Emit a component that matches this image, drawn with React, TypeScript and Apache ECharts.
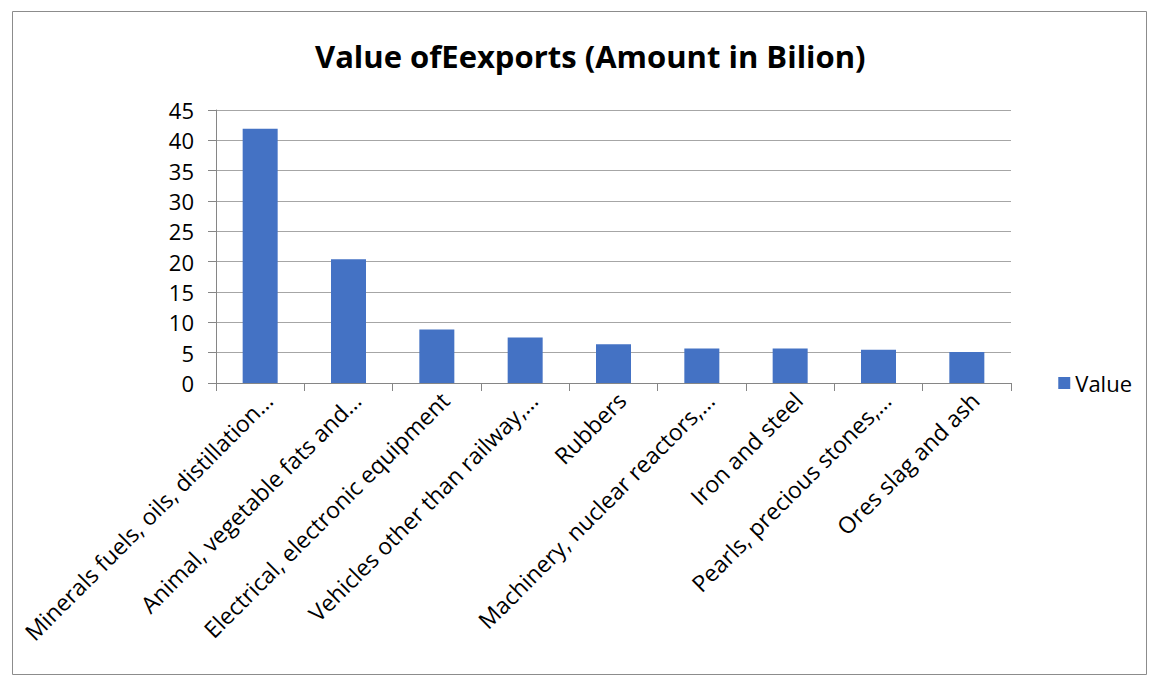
import React, { useEffect, useRef } from "react";
import * as echarts from "echarts";

const categories = [
  "Minerals fuels, oils, distillation…",
  "Animal, vegetable fats and…",
  "Electrical, electronic equipment",
  "Vehicles other than railway,…",
  "Rubbers",
  "Machinery, nuclear reactors,…",
  "Iron and steel",
  "Pearls, precious stones,…",
  "Ores slag and ash",
];
const values = [41.9, 20.4, 8.8, 7.5, 6.4, 5.7, 5.7, 5.5, 5.1];
const seriesName = "Value";
const titleText = "Value ofEexports (Amount in Bilion)";

const FONT = "'Open Sans', 'Noto Sans', sans-serif";

export default function App() {
  const ref = useRef<HTMLDivElement>(null);
  useEffect(() => {
    if (!ref.current) return;
    const chart = echarts.init(ref.current, undefined, { renderer: "svg" });
    chart.setOption({
      animation: false,
      backgroundColor: "#ffffff",
      title: {
        text: titleText,
        left: 310,
        top: 35,
        textStyle: { fontFamily: FONT, fontSize: 31, fontWeight: "bold", color: "#000" },
      },
      legend: {
        right: 12,
        top: 367,
        orient: "vertical",
        itemWidth: 12,
        itemHeight: 12,
        icon: "rect",
        textStyle: { fontFamily: FONT, fontSize: 22, color: "#000" },
        data: [seriesName],
      },
      graphic: [
        {
          type: "rect",
          shape: { x: 12.5, y: 11.5, width: 1134, height: 663 },
          style: { fill: "none", stroke: "#8c8c8c", lineWidth: 1 },
          silent: true,
          z: -1,
        },
      ],
      grid: { left: 216, right: 138, top: 110, bottom: 294 },
      xAxis: {
        type: "category",
        data: categories,
        axisLine: { show: true, lineStyle: { color: "#868686" } },
        axisTick: { show: true, length: 8, alignWithLabel: false, lineStyle: { color: "#868686" } },
        axisLabel: {
          rotate: 45,
          interval: 0,
          fontFamily: FONT,
          fontSize: 23,
          color: "#000",
          margin: 5,
          verticalAlign: "top",
        },
      },
      yAxis: {
        type: "value",
        min: 0,
        max: 45,
        interval: 5,
        axisLine: { show: true, lineStyle: { color: "#868686" } },
        axisTick: { show: true, length: 8, lineStyle: { color: "#868686" } },
        axisLabel: { fontFamily: FONT, fontSize: 22, color: "#000", margin: 22 },
        splitLine: { show: true, lineStyle: { color: "#a6a6a6", width: 1 } },
      },
      series: [
        {
          name: seriesName,
          type: "bar",
          data: values,
          barWidth: 35,
          itemStyle: { color: "#4472c4" },
        },
      ],
    });
    return () => chart.dispose();
  }, []);
  return (
    <div
      ref={ref}
      style={{ position: "fixed", left: 0, top: 0, width: 1149, height: 677 }}
    />
  );
}
